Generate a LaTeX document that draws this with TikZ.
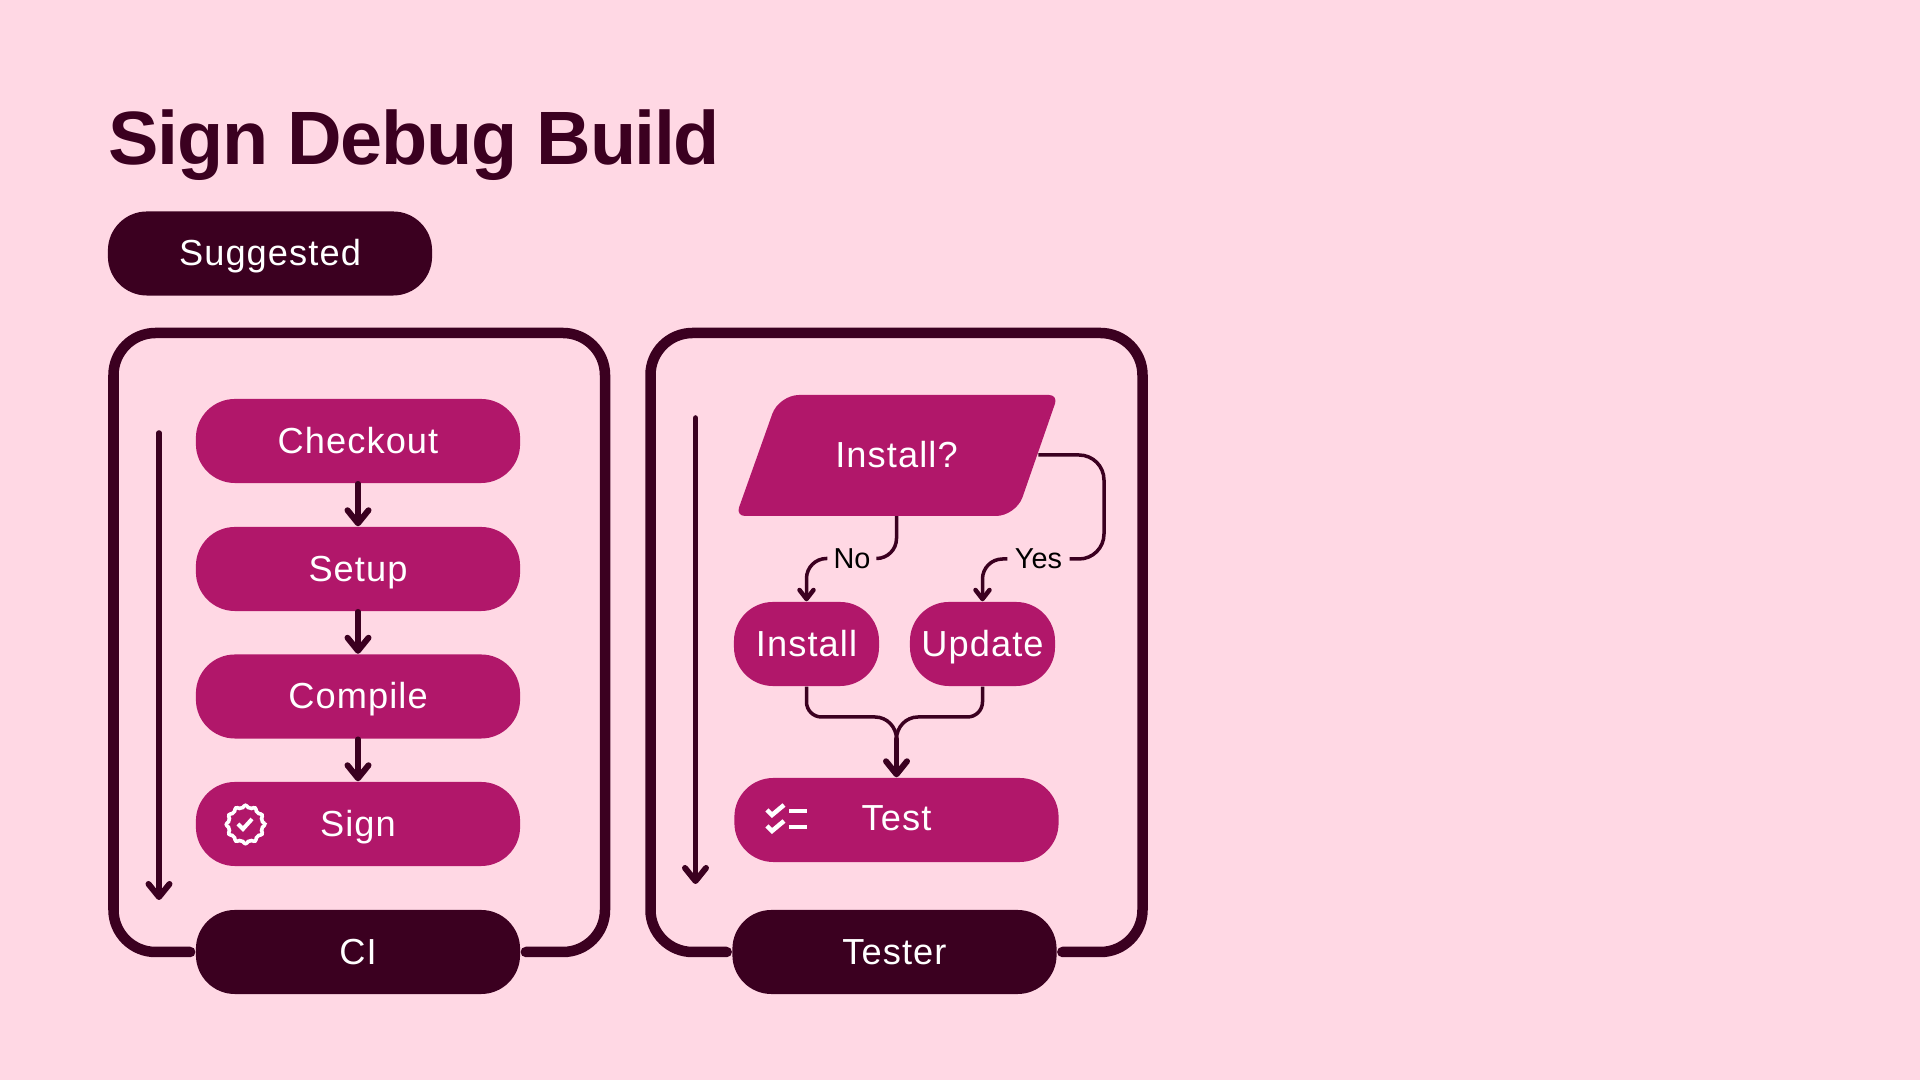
\documentclass[tikz,border=0pt]{standalone}
\usepackage{fontspec}
\setmainfont{Liberation Sans}
\newfontfamily\labelfont[LetterSpace=3]{Liberation Sans}
\newfontfamily\titlefont[LetterSpace=-1.9]{Liberation Sans}
\usetikzlibrary{arrows.meta}
\definecolor{bgpink}{HTML}{FFD8E4}
\definecolor{darkplum}{HTML}{3B0020}
\definecolor{berry}{HTML}{B1176A}
\tikzset{
  pill/.style={rectangle,rounded corners=3.9mm,minimum width=3.24cm,minimum height=.84cm,inner sep=0pt,text=white,text height=.26cm,text depth=.01cm,font=\labelfont\fontsize{10.3}{12}\selectfont},
  stepnode/.style={pill,fill=berry},
  actor/.style={pill,fill=darkplum},
  smallstep/.style={stepnode,minimum width=1.45cm},
  frameline/.style={darkplum,line width=.105cm,line cap=round,rounded corners=.42cm,shorten <=.05cm,shorten >=.05cm},
  bigarrow/.style={darkplum,line width=.055cm,line cap=round,-{Straight Barb[length=.13cm,width=.21cm,round,line width=.06cm]}},
  thinline/.style={darkplum,line width=.035cm,rounded corners=.2cm},
  thinarrow/.style={thinline,-{Straight Barb[length=.09cm,width=.14cm,round,line width=.045cm]}},
  branchlabel/.style={inner sep=0pt,text=black,font=\fontsize{8.2}{10}\selectfont},
  iconline/.style={white,line width=.045cm},
}
\begin{document}
\begin{tikzpicture}[x=.01cm,y=-.01cm]
      \fill[bgpink] (0,0) rectangle (1920,1080);
      \useasboundingbox (0,0) rectangle (1920,1080);
      \node[anchor=base west,darkplum,inner sep=0pt,font=\titlefont\bfseries\fontsize{21.5}{28}\selectfont] (title) at (108,165) {Sign Debug Build};
      \node[actor] (suggested) at (270,253.5) {Suggested};
      % left lane
      \node[actor] (ci) at (358,952) {CI};
      \node[stepnode] (checkout) at (358,441) {Checkout};
      \node[stepnode] (setup) at (358,569) {Setup};
      \node[stepnode] (compile) at (358,696.5) {Compile};
      \node[stepnode] (sign) at (358,824) {Sign};
      \draw[frameline] (ci.west) -- (113.5,952) -- (113.5,333) -- (605,333) -- (605,952) -- (ci.east);
      \draw[bigarrow] (checkout) -- (setup);
      \draw[bigarrow] (setup) -- (compile);
      \draw[bigarrow] (compile) -- (sign);
      \coordinate (citop) at (159,433);
      \coordinate (cibot) at (159,900);
      \draw[bigarrow] (citop) -- (cibot);
      % right lane
      \node[actor] (tester) at (894.5,952) {Tester};
      \fill[berry] (900,395) [rounded corners=.09cm] -- (1058,395) [rounded corners=.2cm] -- (1016,516) [rounded corners=.09cm] -- (736,516) [rounded corners=.2cm] -- (779,395) [sharp corners] -- cycle;
      \node[minimum width=2.82cm,minimum height=1.21cm,inner sep=0pt,text=white,font=\labelfont\fontsize{10.3}{12}\selectfont] (installq) at (896.5,455) {Install?};
      \node[smallstep] (install) at (806.5,644) {Install};
      \node[smallstep] (update) at (982.5,644) {Update};
      \node[stepnode,text depth=.05cm] (test) at (896.5,820) {Test};
      \node[branchlabel,minimum width=.48cm] (no) at (852,558.5) {No};
      \node[branchlabel,minimum width=.61cm] (yes) at (1038.5,559) {Yes};
      \coordinate (yesturn) at (1104,559);
      \coordinate (mergeL) at (875,717);
      \coordinate (mergeR) at (918,717);
      \coordinate (merge) at (896.5,739);
      \draw[frameline] (tester.west) -- (650.5,952) -- (650.5,333) -- (1142.5,333) -- (1142.5,952) -- (tester.east);
      \draw[thinline] (installq.south) |- (no.east);
      \draw[thinarrow] (no.west) -| (install.north);
      \draw[thinline,rounded corners=.25cm] (installq.east) -| (yesturn) -- (yes.east);
      \draw[thinarrow] (yes.west) -| (update.north);
      \draw[thinline,rounded corners=.15cm] (install.south) |- (mergeL);
      \draw[thinline,rounded corners=.15cm] (update.south) |- (mergeR);
      \draw[thinline,sharp corners] (mergeL) .. controls (887,717) and (896.5,727) .. (merge);
      \draw[thinline,sharp corners] (mergeR) .. controls (906,717) and (896.5,727) .. (merge);
      \draw[bigarrow] (merge) -- (test.north);
      \coordinate (testertop) at (695.5,418);
      \coordinate (testerbot) at (695.5,884);
      \draw[bigarrow] (testertop) -- (testerbot);
      % icons
      \draw[iconline,line width=.036cm,rounded corners=.02cm] plot[samples=25,domain=0:360] ({245.5+(18+2*cos(12*\x))*cos(\x)},{824.5+(18+2*cos(12*\x))*sin(\x)}) -- cycle;
      \draw[iconline,line width=.04cm] (238,824) -- (243,829) -- (252,819);
      \draw[iconline] (767,810) -- (772,815) -- (784,805);
      \draw[iconline] (767,826) -- (772,831) -- (784,821);
      \draw[iconline] (789,811) -- (807,811);
      \draw[iconline] (789,827) -- (807,827);
\end{tikzpicture}
\end{document}
